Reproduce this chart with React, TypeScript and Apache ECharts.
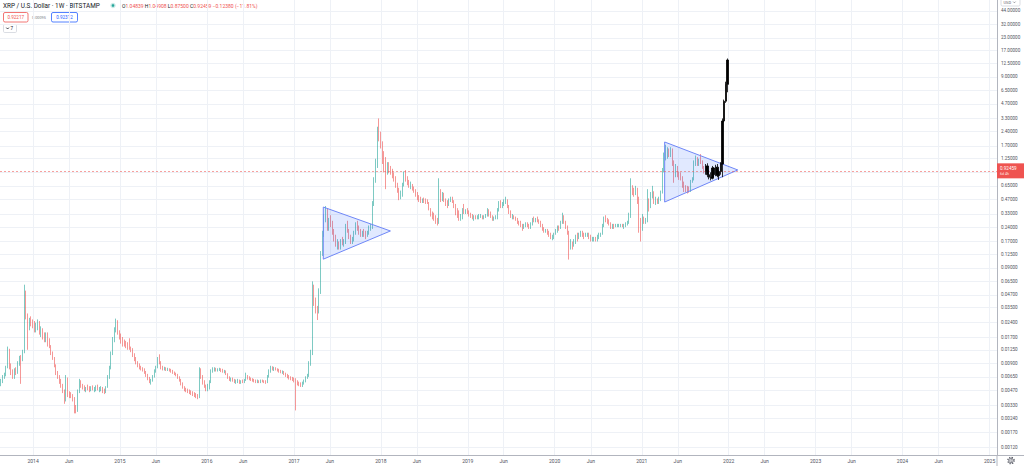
import React, { useEffect, useRef } from "react";
import * as echarts from "echarts";

// ---------- data (weekly candles, BITSTAMP XRPUSD) ----------
const FIRST_WEEK = "2013-08-19";
const FIRST_OPEN = 0.0056;

// each week: [high, low, close]; open = previous week's close
const weeks2013 = [
  [0.0062, 0.0052, 0.0058], [0.0068, 0.0056, 0.0065], [0.0072, 0.0062, 0.0068], [0.0085, 0.0066, 0.0082],
  [0.0135, 0.008, 0.0125], [0.0128, 0.0078, 0.0085], [0.009, 0.0068, 0.0072], [0.0078, 0.0062, 0.0066],
  [0.008, 0.0062, 0.0074], [0.0082, 0.0068, 0.0072], [0.0095, 0.007, 0.009], [0.0108, 0.0085, 0.0102],
  [0.011, 0.0055, 0.0098], [0.0125, 0.0095, 0.0118], [0.06, 0.0115, 0.05], [0.052, 0.026, 0.028],
  [0.03, 0.0125, 0.022], [0.027, 0.02, 0.025], [0.028, 0.022, 0.024], [0.026, 0.021, 0.023],
];
const weeks2014 = [
  [0.025, 0.019, 0.021], [0.024, 0.019, 0.022], [0.026, 0.02, 0.024], [0.025, 0.018, 0.019],
  [0.022, 0.017, 0.02], [0.021, 0.016, 0.017], [0.019, 0.015, 0.016], [0.019, 0.015, 0.018],
  [0.019, 0.0135, 0.0145], [0.0165, 0.013, 0.0138], [0.014, 0.011, 0.0118], [0.012, 0.0098, 0.0102],
  [0.0105, 0.0082, 0.0085], [0.0088, 0.0068, 0.0072], [0.0075, 0.0062, 0.0066], [0.0068, 0.0055, 0.0058],
  [0.0062, 0.005, 0.0052], [0.0055, 0.0044, 0.0046], [0.0048, 0.0034, 0.0038], [0.0068, 0.0036, 0.0062],
  [0.0064, 0.004, 0.0043], [0.0046, 0.0039, 0.0042], [0.0045, 0.0039, 0.0041], [0.0043, 0.0036, 0.0039],
  [0.004, 0.0027, 0.003], [0.0033, 0.0027, 0.0029], [0.0048, 0.0028, 0.0045], [0.0062, 0.0044, 0.0058],
  [0.006, 0.005, 0.0053], [0.0055, 0.0048, 0.0051], [0.0053, 0.0046, 0.0048], [0.0051, 0.0045, 0.005],
  [0.0054, 0.0047, 0.0049], [0.0052, 0.0045, 0.0047], [0.0052, 0.0046, 0.005], [0.0053, 0.0047, 0.0048],
  [0.0051, 0.0045, 0.0049], [0.0053, 0.0046, 0.0051], [0.0054, 0.0047, 0.0048], [0.0051, 0.0045, 0.0049],
  [0.0052, 0.0046, 0.005], [0.0051, 0.0044, 0.0046], [0.0049, 0.0043, 0.0045], [0.0052, 0.0044, 0.0051],
  [0.0068, 0.005, 0.0065], [0.0085, 0.0062, 0.008], [0.012, 0.0078, 0.0115], [0.017, 0.011, 0.016],
  [0.0215, 0.015, 0.0205], [0.0265, 0.019, 0.025], [0.0255, 0.018, 0.0195], [0.02, 0.016, 0.017],
];
const weeks2015 = [
  [0.0185, 0.0145, 0.016], [0.017, 0.0135, 0.015], [0.016, 0.0135, 0.0145], [0.0155, 0.013, 0.014],
  [0.015, 0.0125, 0.0135], [0.0165, 0.0125, 0.013], [0.0135, 0.0118, 0.0125], [0.013, 0.0105, 0.011],
  [0.0115, 0.0095, 0.01], [0.0105, 0.0088, 0.0092], [0.0095, 0.0082, 0.0085], [0.009, 0.0078, 0.008],
  [0.0085, 0.0076, 0.0079], [0.0082, 0.0074, 0.0077], [0.008, 0.007, 0.0072], [0.0075, 0.0065, 0.0068],
  [0.007, 0.006, 0.0062], [0.0065, 0.0056, 0.0058], [0.0062, 0.0054, 0.006], [0.0068, 0.0058, 0.0066],
  [0.0078, 0.0064, 0.0075], [0.0085, 0.0072, 0.0082], [0.0105, 0.008, 0.0095], [0.0112, 0.0088, 0.0092],
  [0.0095, 0.0078, 0.008], [0.0085, 0.0076, 0.0079], [0.0083, 0.0076, 0.008], [0.0082, 0.0075, 0.0078],
  [0.0081, 0.0075, 0.0079], [0.008, 0.0074, 0.0077], [0.0079, 0.0072, 0.0075], [0.0077, 0.007, 0.0072],
  [0.0074, 0.0068, 0.007], [0.0072, 0.0066, 0.0068], [0.007, 0.0062, 0.0064], [0.0066, 0.0058, 0.006],
  [0.0062, 0.0053, 0.0055], [0.0057, 0.0049, 0.005], [0.0052, 0.0046, 0.0048], [0.005, 0.0045, 0.0047],
  [0.0049, 0.0044, 0.0046], [0.0048, 0.0043, 0.0045], [0.0047, 0.0042, 0.0044], [0.0046, 0.0041, 0.0043],
  [0.0045, 0.004, 0.0042], [0.0044, 0.0039, 0.0041], [0.0043, 0.0038, 0.004], [0.0082, 0.0039, 0.0078],
  [0.008, 0.0062, 0.0065], [0.0068, 0.0054, 0.0057], [0.006, 0.005, 0.0052], [0.0054, 0.0046, 0.0048],
];
const weeks2016 = [
  [0.0055, 0.0046, 0.005], [0.006, 0.0048, 0.0058], [0.0078, 0.0056, 0.0076], [0.0082, 0.0072, 0.0078],
  [0.0082, 0.0074, 0.0079], [0.0081, 0.0074, 0.0077], [0.008, 0.0074, 0.0078], [0.0081, 0.0075, 0.0079],
  [0.008, 0.0073, 0.0076], [0.0079, 0.0072, 0.0074], [0.0077, 0.0071, 0.0075], [0.0076, 0.0068, 0.007],
  [0.0071, 0.0062, 0.0064], [0.0066, 0.0059, 0.0061], [0.0064, 0.0058, 0.0062], [0.0064, 0.0058, 0.006],
  [0.0062, 0.0056, 0.0058], [0.0061, 0.0055, 0.0059], [0.0062, 0.0056, 0.006], [0.0061, 0.0055, 0.0057],
  [0.006, 0.0055, 0.0059], [0.0061, 0.0056, 0.0058], [0.0062, 0.0056, 0.0061], [0.0072, 0.0059, 0.0065],
  [0.0068, 0.0061, 0.0064], [0.0066, 0.006, 0.0062], [0.0064, 0.0059, 0.0061], [0.0063, 0.0058, 0.006],
  [0.0062, 0.0057, 0.0059], [0.0061, 0.0056, 0.0058], [0.0061, 0.0056, 0.0059], [0.006, 0.0056, 0.0058],
  [0.0061, 0.0056, 0.006], [0.0061, 0.0057, 0.0059], [0.006, 0.0056, 0.0058], [0.006, 0.0055, 0.0057],
  [0.0068, 0.0056, 0.0066], [0.0078, 0.0064, 0.0076], [0.0085, 0.0072, 0.008], [0.0084, 0.0076, 0.0079],
  [0.0083, 0.0075, 0.0081], [0.0082, 0.0076, 0.0078], [0.008, 0.0074, 0.0077], [0.0079, 0.0072, 0.0075],
  [0.0077, 0.0071, 0.0073], [0.0076, 0.007, 0.0074], [0.0075, 0.0068, 0.007], [0.0072, 0.0065, 0.0067],
  [0.007, 0.0063, 0.0065], [0.0068, 0.0061, 0.0063], [0.0066, 0.006, 0.0062], [0.0065, 0.0059, 0.0061],
];
const weeks2017 = [
  [0.0064, 0.0057, 0.006], [0.0063, 0.0029, 0.0057], [0.006, 0.0053, 0.0055], [0.0058, 0.0052, 0.0054],
  [0.0057, 0.0051, 0.0053], [0.0058, 0.0051, 0.0056], [0.0061, 0.0054, 0.0059], [0.0066, 0.0057, 0.0064],
  [0.007, 0.0062, 0.0067], [0.0095, 0.0065, 0.009], [0.0125, 0.0085, 0.0118], [0.065, 0.011, 0.058],
  [0.06, 0.036, 0.04], [0.044, 0.03, 0.034], [0.036, 0.0256, 0.032], [0.055, 0.03, 0.05],
  [0.135, 0.048, 0.125], [0.22, 0.12, 0.2], [0.33, 0.19, 0.31], [0.4, 0.27, 0.34],
  [0.38, 0.22, 0.25], [0.3, 0.22, 0.28], [0.32, 0.24, 0.26], [0.28, 0.2, 0.21],
  [0.23, 0.17, 0.19], [0.2, 0.15, 0.16], [0.18, 0.14, 0.16], [0.17, 0.14, 0.15],
  [0.18, 0.14, 0.17], [0.19, 0.155, 0.16], [0.18, 0.15, 0.17], [0.26, 0.16, 0.25],
  [0.28, 0.21, 0.22], [0.23, 0.18, 0.19], [0.2, 0.16, 0.17], [0.19, 0.16, 0.18],
  [0.22, 0.17, 0.21], [0.27, 0.2, 0.26], [0.28, 0.22, 0.23], [0.25, 0.2, 0.22],
  [0.23, 0.19, 0.2], [0.22, 0.19, 0.21], [0.23, 0.19, 0.2], [0.22, 0.18, 0.19],
  [0.22, 0.19, 0.21], [0.25, 0.2, 0.23], [0.26, 0.22, 0.24], [0.45, 0.23, 0.41],
  [0.8, 0.4, 0.72], [1.25, 0.7, 1.1], [2.7, 1.0, 2.4], [3.3, 1.9, 2.1],
];
const weeks2018 = [
  [2.4, 1.6, 1.75], [1.9, 1.1, 1.3], [1.5, 0.9, 1.25], [1.3, 0.6, 0.95],
  [1.15, 0.85, 1.05], [1.15, 0.88, 0.95], [1.05, 0.85, 0.9], [0.98, 0.78, 0.82],
  [0.9, 0.72, 0.78], [0.82, 0.62, 0.66], [0.7, 0.55, 0.58], [0.62, 0.46, 0.5],
  [0.58, 0.47, 0.52], [0.7, 0.5, 0.66], [0.92, 0.64, 0.88], [0.95, 0.72, 0.78],
  [0.82, 0.66, 0.7], [0.75, 0.62, 0.65], [0.72, 0.6, 0.66], [0.68, 0.58, 0.6],
  [0.64, 0.55, 0.58], [0.6, 0.5, 0.53], [0.56, 0.46, 0.49], [0.52, 0.44, 0.46],
  [0.5, 0.43, 0.45], [0.48, 0.43, 0.46], [0.49, 0.43, 0.45], [0.48, 0.42, 0.44],
  [0.47, 0.42, 0.43], [0.44, 0.36, 0.37], [0.38, 0.31, 0.33], [0.35, 0.29, 0.31],
  [0.34, 0.28, 0.3], [0.32, 0.26, 0.28], [0.3, 0.25, 0.27], [0.78, 0.26, 0.56],
  [0.6, 0.44, 0.48], [0.56, 0.45, 0.52], [0.55, 0.44, 0.46], [0.48, 0.4, 0.42],
  [0.46, 0.38, 0.4], [0.48, 0.4, 0.46], [0.5, 0.44, 0.47], [0.5, 0.43, 0.45],
  [0.46, 0.38, 0.4], [0.42, 0.32, 0.34], [0.38, 0.3, 0.32], [0.36, 0.28, 0.3],
  [0.33, 0.28, 0.3], [0.38, 0.29, 0.36], [0.42, 0.33, 0.35], [0.37, 0.33, 0.35],
];
const weeks2019 = [
  [0.38, 0.33, 0.34], [0.36, 0.31, 0.32], [0.34, 0.3, 0.31], [0.33, 0.29, 0.3],
  [0.32, 0.28, 0.31], [0.32, 0.29, 0.3], [0.32, 0.29, 0.31], [0.33, 0.29, 0.31],
  [0.33, 0.3, 0.31], [0.32, 0.29, 0.3], [0.32, 0.29, 0.31], [0.33, 0.3, 0.32],
  [0.38, 0.31, 0.36], [0.37, 0.31, 0.33], [0.35, 0.3, 0.31], [0.32, 0.28, 0.29],
  [0.31, 0.28, 0.3], [0.32, 0.29, 0.3], [0.38, 0.29, 0.36], [0.45, 0.35, 0.42],
  [0.46, 0.38, 0.4], [0.44, 0.38, 0.42], [0.47, 0.4, 0.44], [0.5, 0.42, 0.46],
  [0.47, 0.38, 0.4], [0.41, 0.33, 0.35], [0.36, 0.3, 0.31], [0.33, 0.29, 0.31],
  [0.32, 0.29, 0.3], [0.31, 0.28, 0.29], [0.3, 0.26, 0.27], [0.28, 0.25, 0.26],
  [0.28, 0.24, 0.25], [0.26, 0.22, 0.24], [0.26, 0.23, 0.25], [0.27, 0.24, 0.26],
  [0.27, 0.24, 0.25], [0.26, 0.23, 0.24], [0.27, 0.23, 0.26], [0.3, 0.25, 0.29],
  [0.31, 0.27, 0.28], [0.3, 0.27, 0.29], [0.31, 0.27, 0.28], [0.29, 0.26, 0.27],
  [0.28, 0.24, 0.25], [0.26, 0.22, 0.23], [0.24, 0.21, 0.22], [0.23, 0.21, 0.22],
  [0.23, 0.2, 0.21], [0.22, 0.19, 0.2], [0.21, 0.18, 0.19], [0.2, 0.175, 0.19],
];
const weeks2020 = [
  [0.21, 0.18, 0.2], [0.23, 0.2, 0.22], [0.25, 0.21, 0.24], [0.25, 0.22, 0.23],
  [0.28, 0.23, 0.27], [0.34, 0.26, 0.31], [0.32, 0.26, 0.27], [0.28, 0.23, 0.24],
  [0.25, 0.2, 0.21], [0.22, 0.11, 0.15], [0.18, 0.14, 0.16], [0.17, 0.14, 0.15],
  [0.18, 0.15, 0.17], [0.2, 0.16, 0.19], [0.21, 0.17, 0.18], [0.21, 0.18, 0.2],
  [0.22, 0.19, 0.21], [0.22, 0.19, 0.2], [0.21, 0.18, 0.19], [0.21, 0.19, 0.2],
  [0.21, 0.19, 0.2], [0.21, 0.18, 0.19], [0.2, 0.17, 0.18], [0.19, 0.17, 0.18],
  [0.19, 0.17, 0.18], [0.19, 0.17, 0.17], [0.2, 0.17, 0.19], [0.21, 0.18, 0.2],
  [0.21, 0.19, 0.2], [0.26, 0.2, 0.25], [0.31, 0.24, 0.3], [0.32, 0.27, 0.28],
  [0.3, 0.26, 0.27], [0.29, 0.25, 0.26], [0.27, 0.23, 0.24], [0.26, 0.23, 0.25],
  [0.26, 0.23, 0.24], [0.26, 0.24, 0.25], [0.26, 0.24, 0.25], [0.26, 0.24, 0.25],
  [0.26, 0.24, 0.25], [0.26, 0.24, 0.24], [0.26, 0.23, 0.25], [0.27, 0.24, 0.26],
  [0.28, 0.25, 0.27], [0.34, 0.26, 0.32], [0.78, 0.3, 0.6], [0.66, 0.52, 0.58],
  [0.62, 0.5, 0.55], [0.65, 0.52, 0.6], [0.62, 0.42, 0.45], [0.5, 0.21, 0.28],
];
const weeks2021 = [
  [0.3, 0.17, 0.24], [0.33, 0.22, 0.29], [0.31, 0.26, 0.27], [0.3, 0.26, 0.28],
  [0.6, 0.27, 0.42], [0.48, 0.35, 0.41], [0.56, 0.38, 0.54], [0.65, 0.48, 0.55],
  [0.57, 0.42, 0.45], [0.5, 0.41, 0.46], [0.48, 0.42, 0.44], [0.5, 0.42, 0.47],
  [0.58, 0.45, 0.55], [1.0, 0.54, 0.95], [1.45, 0.9, 1.35], [1.75, 1.2, 1.4],
  [1.65, 1.25, 1.5], [1.6, 1.3, 1.45], [1.65, 1.3, 1.55], [1.6, 1.05, 1.15],
  [1.2, 0.7, 0.95], [1.1, 0.8, 1.0], [1.05, 0.8, 0.88], [0.92, 0.75, 0.85],
  [0.9, 0.74, 0.8], [0.82, 0.62, 0.65], [0.72, 0.56, 0.62], [0.66, 0.56, 0.6],
  [0.65, 0.54, 0.58], [0.64, 0.55, 0.57], [0.75, 0.56, 0.74], [0.8, 0.7, 0.75],
  [1.2, 0.74, 1.18], [1.35, 1.05, 1.25], [1.3, 1.05, 1.15], [1.25, 1.05, 1.2],
  [1.4, 1.1, 1.15], [1.2, 0.98, 1.04839], [1.04908, 0.875, 0.92459],
];
// hand-drawn "bars pattern" projection (black), [high, low, close]
const projectionWeeks = [
  [1.1, 0.85, 1.05], [1.12, 0.8, 0.85], [0.95, 0.76, 0.8], [0.9, 0.74, 0.78],
  [1.05, 0.76, 1.0], [1.02, 0.8, 0.85], [1.08, 0.82, 1.02], [1.1, 0.8, 0.83],
  [0.95, 0.75, 0.92], [1.15, 0.85, 1.1], [3.3, 0.8, 3.1], [5.2, 3.0, 5.0],
  [8.0, 4.8, 7.5], [14.0, 6.2, 13.5],
];

const LAST_PRICE = 0.92459;
const COUNTDOWN = "6d 4h";

const yTickLabels = [
  "44.00000", "32.00000", "23.00000", "17.00000", "12.50000", "9.00000", "6.50000", "4.70000",
  "3.30000", "2.40000", "1.70000", "1.25000", "0.65000", "0.47000", "0.33000", "0.24000",
  "0.17000", "0.12500", "0.09000", "0.06500", "0.04700", "0.03500", "0.02400", "0.01700",
  "0.01250", "0.00900", "0.00650", "0.00470", "0.00330", "0.00240", "0.00170", "0.00120",
];
const yGridHidden = [0.9]; // grid line whose label sits under the last-price tag

const xTickDates = [
  "2014-01-01", "2014-06-01", "2015-01-01", "2015-06-01", "2016-01-01", "2016-06-01",
  "2017-01-01", "2017-06-01", "2018-01-01", "2018-06-01", "2019-01-01", "2019-06-01",
  "2020-01-01", "2020-06-01", "2021-01-01", "2021-06-01", "2022-01-01", "2022-06-01",
  "2023-01-01", "2023-06-01", "2024-01-01", "2024-06-01", "2025-01-01",
];
const xTickLabels = [
  "2014", "Jun", "2015", "Jun", "2016", "Jun", "2017", "Jun", "2018", "Jun", "2019", "Jun",
  "2020", "Jun", "2021", "Jun", "2022", "Jun", "2023", "Jun", "2024", "Jun", "2025",
];

// triangle pattern drawings: [date, price] vertices
const triangleA: [string, number][] = [["2017-05-04", 0.39], ["2018-02-10", 0.219], ["2017-05-04", 0.111]];
const triangleB: [string, number][] = [["2021-04-07", 1.87], ["2022-02-08", 0.953], ["2021-04-07", 0.44]];

const TITLE = "XRP / U.S. Dollar · 1W · BITSTAMP";
const OHLC: [string, string][] = [["O", "1.04839"], ["H", "1.04908"], ["L", "0.87500"], ["C", "0.92459"]];
const CHANGE = "−0.12380 (−11.81%)";
const BID = "0.92217";
const SPREAD = "0.00095";
const ASK = "0.92312";

const VIEW_START = "2013-08-15";
const VIEW_END = "2025-02-01";
const VIEW_MIN_PRICE = 0.00099;
const VIEW_MAX_PRICE = 57.3;

// ---------- helpers ----------
const lg = Math.log10;
const DAY = 86400000;
const ts = (d: string) => Date.parse(d + "T00:00:00Z");
const UP = "#26a69a";
const DOWN = "#ef5350";
const FONT = 'Roboto, "Noto Sans", sans-serif';

function buildCandles(weeks: number[][], firstOpen: number, startIndex: number) {
  const t0 = ts(FIRST_WEEK);
  let open = firstOpen;
  return weeks.map((w, k) => {
    const [h0, l0, c] = w;
    const h = Math.max(h0, open, c);
    const l = Math.min(l0, open, c);
    const item = [t0 + (startIndex + k) * 7 * DAY, lg(open), lg(c), lg(l), lg(h)];
    open = c;
    return item;
  });
}

export default function App() {
  const ref = useRef<HTMLDivElement>(null);

  useEffect(() => {
    if (!ref.current) return;
    const chart = echarts.init(ref.current, undefined, { renderer: "svg" });

    const history = [
      ...weeks2013, ...weeks2014, ...weeks2015, ...weeks2016, ...weeks2017,
      ...weeks2018, ...weeks2019, ...weeks2020, ...weeks2021,
    ];
    const candles = buildCandles(history, FIRST_OPEN, 0);
    const lastClose = history[history.length - 1][2];
    const projection = buildCandles(projectionWeeks, lastClose, history.length);

    const triData = [triangleA, triangleB].map((t) =>
      t.flatMap(([d, p]) => [ts(d), lg(p)])
    );

    const yLabelVals = yTickLabels.map((s) => lg(parseFloat(s)));
    const yGridVals = [...yLabelVals, ...yGridHidden.map(lg)].sort((a, b) => a - b);
    const xVals = xTickDates.map(ts);

    const label = (text: string, x: number, y: number, fill: string, size: number, extra: any = {}) => ({
      type: "text",
      x,
      y,
      silent: true,
      style: { text, fill, fontSize: size, fontFamily: FONT, verticalAlign: "middle", ...extra },
    });

    const ohlcRich =
      OHLC.map(([k, v]) => `{k|${k}}{v|${v}}`).join(" ") + ` {v|${CHANGE}}`;

    chart.setOption({
      animation: false,
      backgroundColor: "#ffffff",
      grid: { left: 0, right: 27, top: 0, bottom: 11, containLabel: false, outerBoundsMode: "none" },
      xAxis: {
        type: "value",
        min: ts(VIEW_START),
        max: ts(VIEW_END),
        axisLine: { show: true, onZero: false, lineStyle: { color: "#b2b5be", width: 1 } },
        axisTick: { show: false, customValues: xVals },
        axisLabel: {
          customValues: xVals,
          formatter: (v: number) => {
            const i = xVals.findIndex((x) => Math.abs(x - v) < DAY);
            return i >= 0 ? xTickLabels[i] : "";
          },
          fontSize: 5,
          color: "#50535e",
          fontFamily: FONT,
          margin: 3,
          hideOverlap: false,
        },
        splitLine: { show: true, lineStyle: { color: "#eef1f6", width: 1 } },
      },
      yAxis: {
        type: "value",
        position: "right",
        min: lg(VIEW_MIN_PRICE),
        max: lg(VIEW_MAX_PRICE),
        axisLine: { show: true, onZero: false, lineStyle: { color: "#b2b5be", width: 1 } },
        axisTick: { show: false, customValues: yGridVals },
        axisLabel: {
          customValues: yLabelVals,
          formatter: (v: number) => {
            const i = yLabelVals.findIndex((x) => Math.abs(x - v) < 1e-6);
            return i >= 0 ? yTickLabels[i] : "";
          },
          fontSize: 4.6,
          color: "#50535e",
          fontFamily: FONT,
          margin: 4,
        },
        splitLine: { show: true, lineStyle: { color: "#eef1f6", width: 1 } },
      },
      series: [
        {
          type: "candlestick",
          name: "XRPUSD",
          data: candles,
          dimensions: ["time", "open", "close", "lowest", "highest"],
          encode: { x: "time", y: ["open", "close", "lowest", "highest"] },
          barWidth: 1,
          z: 2,
          itemStyle: { color: UP, color0: DOWN, borderColor: UP, borderColor0: DOWN, borderWidth: 0.6 },
          markLine: {
            silent: true,
            symbol: ["none", "none"],
            data: [{ yAxis: lg(LAST_PRICE) }],
            lineStyle: { color: "rgba(239, 83, 80, 0.55)", type: [2, 2], width: 1 },
            label: {
              show: true,
              position: "end",
              distance: 0,
              formatter: `{p|${LAST_PRICE.toFixed(5)}}\n{t|${COUNTDOWN}}`,
              backgroundColor: DOWN,
              padding: [2, 3, 2, 3],
              width: 21,
              rich: {
                p: { color: "#ffffff", fontSize: 4.6, fontFamily: FONT, lineHeight: 6 },
                t: { color: "#fde3e2", fontSize: 3.6, fontFamily: FONT, lineHeight: 5 },
              },
            },
          },
        },
        {
          type: "custom",
          name: "triangles",
          data: triData,
          dimensions: ["t1", "p1", "t2", "p2", "t3", "p3"],
          encode: { x: [0, 2, 4], y: [1, 3, 5] },
          z: 4,
          silent: true,
          renderItem: (_params: any, api: any) => {
            const pts = [0, 1, 2].map((k) => api.coord([api.value(k * 2), api.value(k * 2 + 1)]));
            return {
              type: "polygon",
              shape: { points: pts },
              style: { fill: "rgba(41, 98, 255, 0.14)", stroke: "#6f87f7", lineWidth: 1 },
            };
          },
        },
        {
          type: "candlestick",
          name: "projection",
          data: projection,
          dimensions: ["time", "open", "close", "lowest", "highest"],
          encode: { x: "time", y: ["open", "close", "lowest", "highest"] },
          barWidth: 1.8,
          z: 5,
          itemStyle: { color: "#000", color0: "#000", borderColor: "#000", borderColor0: "#000", borderWidth: 0.8 },
        },
      ],
      graphic: [
        // title row
        label(TITLE, 3, 5.5, "#131722", 6.4),
        { type: "circle", silent: true, shape: { cx: 113, cy: 5.5, r: 2.7 }, style: { fill: "rgba(38,166,154,0.25)" } },
        { type: "circle", silent: true, shape: { cx: 113, cy: 5.5, r: 1.3 }, style: { fill: UP } },
        {
          type: "text",
          x: 122,
          y: 5.5,
          silent: true,
          style: {
            text: ohlcRich,
            verticalAlign: "middle",
            fontFamily: FONT,
            fontSize: 5,
            rich: {
              k: { fill: "#131722", fontSize: 5, fontFamily: FONT },
              v: { fill: DOWN, fontSize: 5, fontFamily: FONT },
            },
          },
        },
        // bid / spread / ask
        { type: "rect", silent: true, shape: { x: 3.5, y: 12.5, width: 24.5, height: 9.5, r: 1.5 }, style: { fill: "#fff", stroke: DOWN, lineWidth: 0.8 } },
        label(BID, 15.75, 17.3, DOWN, 4.6, { align: "center" }),
        label(SPREAD, 32, 17.3, "#787b86", 3.8),
        { type: "rect", silent: true, shape: { x: 51.5, y: 12.5, width: 26, height: 9.5, r: 1.5 }, style: { fill: "#fff", stroke: "#2962ff", lineWidth: 0.8 } },
        label(ASK, 64.5, 17.3, "#2962ff", 4.6, { align: "center" }),
        // collapse button
        { type: "rect", silent: true, shape: { x: 3.5, y: 24.5, width: 13, height: 8, r: 1.2 }, style: { fill: "#fff", stroke: "#d1d4dc", lineWidth: 0.8 } },
        { type: "polyline", silent: true, shape: { points: [[6.3, 27.6], [7.6, 29], [8.9, 27.6]] }, style: { stroke: "#131722", lineWidth: 0.8, fill: "none" } },
        label("7", 10.6, 28.6, "#131722", 4.6),
        // currency button
        { type: "rect", silent: true, shape: { x: 1001, y: -4, width: 19, height: 10, r: 1.5 }, style: { fill: "#fff", stroke: "#d1d4dc", lineWidth: 0.8 } },
        label("USD", 1003.5, 2.2, "#5d606b", 4),
        { type: "polyline", silent: true, shape: { points: [[1013.2, 1.6], [1014.4, 2.8], [1015.6, 1.6]] }, style: { stroke: "#5d606b", lineWidth: 0.6, fill: "none" } },
        // axis separators beyond the grid
        { type: "line", silent: true, shape: { x1: 997, y1: 455, x2: 997, y2: 466 }, style: { stroke: "#b2b5be", lineWidth: 1 } },
        { type: "line", silent: true, shape: { x1: 997, y1: 455.5, x2: 1024, y2: 455.5 }, style: { stroke: "#b2b5be", lineWidth: 1 } },
        // settings gear
        { type: "circle", silent: true, shape: { cx: 1011, cy: 460.5, r: 3.2 }, style: { fill: "none", stroke: "#50535e", lineWidth: 1.2, lineDash: [1.2, 1.31] } },
        { type: "circle", silent: true, shape: { cx: 1011, cy: 460.5, r: 2.3 }, style: { fill: "#fff", stroke: "#50535e", lineWidth: 0.8 } },
        { type: "circle", silent: true, shape: { cx: 1011, cy: 460.5, r: 0.9 }, style: { fill: "none", stroke: "#50535e", lineWidth: 0.6 } },
      ],
    });

    return () => chart.dispose();
  }, []);

  return (
    <div
      ref={ref}
      style={{ position: "absolute", left: 0, top: 0, width: 1024, height: 466, background: "#fff" }}
    />
  );
}
